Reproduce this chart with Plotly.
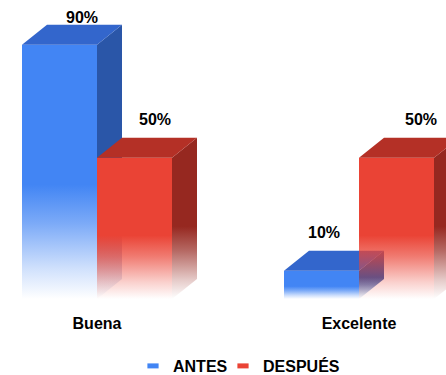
import plotly.graph_objects as go

# ---- data ----
categories = ["Buena", "Excelente"]
series_names = ["ANTES", "DESPUÉS"]
antes = [90, 10]
despues = [50, 50]
values = [antes, despues]

# ---- styles ----
front_colors = [(66, 133, 244), (234, 67, 53)]
top_colors = [(51, 102, 204), (180, 48, 38)]
side_colors = [(42, 86, 168), (150, 40, 32)]
label_xshift = [[22, 2], [20, 24]]  # per series, per category (px)
legend_left_px = [133, 223]

W, H = 446, 375
M_B = 76
plot_h = H - M_B
px_per_pct = 2.825
px_per_x = 262.0
x_lo = -97 / px_per_x
x_hi = x_lo + W / px_per_x
y_hi = plot_h / px_per_pct

bar_w = 75 / px_per_x
dx = 25 / px_per_x
dy = 20 / px_per_pct


def rgba(c, a):
    return f"rgba({c[0]},{c[1]},{c[2]},{a})"


def fade_scale(c):
    return [[0, rgba(c, 0)], [0.12, rgba(c, 0.25)], [0.3, rgba(c, 0.7)],
            [0.45, rgba(c, 1)], [1, rgba(c, 1)]]


FONT = dict(family="Liberation Sans", size=16, color="#000000", weight="bold")

fig = go.Figure()

for ci, cat in enumerate(categories):
    for si in range(len(series_names)):
        v = values[si][ci]
        x0 = ci - bar_w + si * bar_w
        x1 = x0 + bar_w
        # side face
        fig.add_trace(go.Scatter(
            x=[x1, x1 + dx, x1 + dx, x1, x1], y=[0, dy, v + dy, v, 0],
            fill="toself", mode="lines", line=dict(width=0),
            fillcolor=rgba(side_colors[si], 1),
            fillgradient=dict(type="vertical", colorscale=fade_scale(side_colors[si]),
                              start=0, stop=v + dy),
            showlegend=False, hoverinfo="skip"))
        # front face
        fig.add_trace(go.Scatter(
            x=[x0, x1, x1, x0, x0], y=[0, 0, v, v, 0],
            fill="toself", mode="lines", line=dict(width=0),
            fillcolor=rgba(front_colors[si], 1),
            fillgradient=dict(type="vertical", colorscale=fade_scale(front_colors[si]),
                              start=0, stop=v),
            showlegend=False, hoverinfo="skip"))
        # top face
        fig.add_trace(go.Scatter(
            x=[x0, x1, x1 + dx, x0 + dx, x0], y=[v, v, v + dy, v + dy, v],
            fill="toself", mode="lines", line=dict(width=0),
            fillcolor=rgba(top_colors[si], 1),
            showlegend=False, hoverinfo="skip"))
        # value label
        v_px = plot_h - v * px_per_pct
        lab_px = max(v_px - 38, 17)
        fig.add_annotation(x=(x0 + x1) / 2, y=v, text=f"{v}%", showarrow=False,
                           xshift=label_xshift[si][ci], yshift=v_px - lab_px,
                           yanchor="middle", font=FONT)

legend_ids = ["legend", "legend2"]
for si, name in enumerate(series_names):
    fig.add_trace(go.Scatter(
        x=[None], y=[None], mode="markers", name=name, legend=legend_ids[si],
        marker=dict(symbol="line-ew", size=8, color=rgba(front_colors[si], 1),
                    line=dict(width=6, color=rgba(front_colors[si], 1)))))

legend_y = -(366 - plot_h) / plot_h
fig.update_layout(
    width=W, height=H,
    margin=dict(l=0, r=0, t=0, b=M_B, pad=0, autoexpand=False),
    paper_bgcolor="white", plot_bgcolor="white",
    xaxis=dict(range=[x_lo, x_hi], tickvals=list(range(len(categories))),
               ticktext=categories, showgrid=False, zeroline=False, showline=False,
               ticks="", ticklabelstandoff=13, fixedrange=True, tickfont=FONT),
    yaxis=dict(range=[0, y_hi], visible=False, fixedrange=True),
    showlegend=True,
    legend=dict(orientation="h", x=legend_left_px[0] / W, xanchor="left", y=legend_y,
                yanchor="middle", font=FONT, bgcolor="rgba(0,0,0,0)"),
    legend2=dict(orientation="h", x=legend_left_px[1] / W, xanchor="left", y=legend_y,
                 yanchor="middle", font=FONT, bgcolor="rgba(0,0,0,0)"),
)

fig.write_html("out.html")
